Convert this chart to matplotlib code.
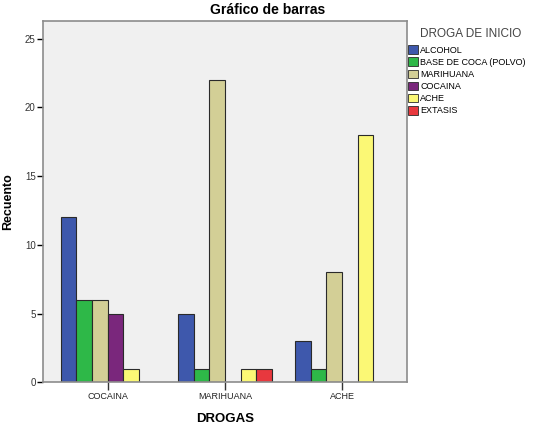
import numpy as np
import matplotlib
matplotlib.use("Agg")
import matplotlib.pyplot as plt
from matplotlib.patches import Patch

plt.rcParams['font.family'] = ['Liberation Sans', 'DejaVu Sans']

# categories on the x axis
drogas = ['COCAINA', 'MARIHUANA', 'ACHE']
# legend series (droga de inicio)
series = ['ALCOHOL', 'BASE DE COCA (POLVO)', 'MARIHUANA', 'COCAINA', 'ACHE', 'EXTASIS']
alcohol = [12, 5, 3]
base_coca = [6, 1, 1]
marihuana = [6, 22, 8]
cocaina = [5, 0, 0]
ache = [1, 1, 18]
extasis = [0, 1, 0]
values = [alcohol, base_coca, marihuana, cocaina, ache, extasis]
colors = ['#3E58AC', '#2EB848', '#D3CF96', '#7A277C', '#FBF875', '#E8383E']

fig = plt.figure(figsize=(5.36, 4.32), dpi=100)
ax = fig.add_axes([0.0797, 0.115, 0.6796, 0.837])
ax.set_facecolor('#F0F0F0')

x = np.arange(len(drogas))
w = 0.1336
for i, (vals, c) in enumerate(zip(values, colors)):
    vals = np.array(vals, dtype=float)
    m = vals > 0
    ax.bar(x[m] + (i - 2.5) * w, vals[m], width=w, color=c,
           edgecolor='#2A2A2A', linewidth=0.8, zorder=2)

ax.set_xlim(-0.553, 2.553)
ax.set_ylim(0, 26.3)
ax.set_yticks([0, 5, 10, 15, 20, 25])
ax.set_xticks(x)
ax.set_xticklabels(drogas)
ax.tick_params(axis='y', direction='out', length=4, width=1, colors='black',
               labelsize=7, labelcolor='#333333', pad=1)
ax.tick_params(axis='x', direction='out', length=6, width=1, colors='#333333',
               labelsize=6.5, labelcolor='#222222', pad=1)
for s in ax.spines.values():
    s.set_color('#8C8C8C')
    s.set_linewidth(1.2)

ax.set_ylabel('Recuento', fontsize=9, fontweight='bold')
ax.yaxis.set_label_coords(-0.078, 0.5)
ax.set_xlabel('DROGAS', fontsize=9.5, fontweight='bold')
ax.xaxis.set_label_coords(0.5, -0.085)
fig.text(0.5, 0.976, 'Gráfico de barras', ha='center', va='center',
         fontsize=10, fontweight='bold')

# legend title drawn on its own to match the spacing
fig.text(420 / 536, 1 - 34 / 432, 'DROGA DE INICIO', ha='left', va='center',
         fontsize=8.5, color='#444444')
handles = [Patch(facecolor=c, edgecolor='#2A2A2A', linewidth=0.6) for c in colors]
leg = fig.legend(handles, series, loc='upper left',
                 bbox_to_anchor=(402 / 536, 1 - 39 / 432),
                 frameon=False, fontsize=6.5,
                 handlelength=1.1, handleheight=1.1,
                 handletextpad=0.2, labelspacing=0.3, borderpad=0.2)

fig.savefig('out.png', dpi=100)
